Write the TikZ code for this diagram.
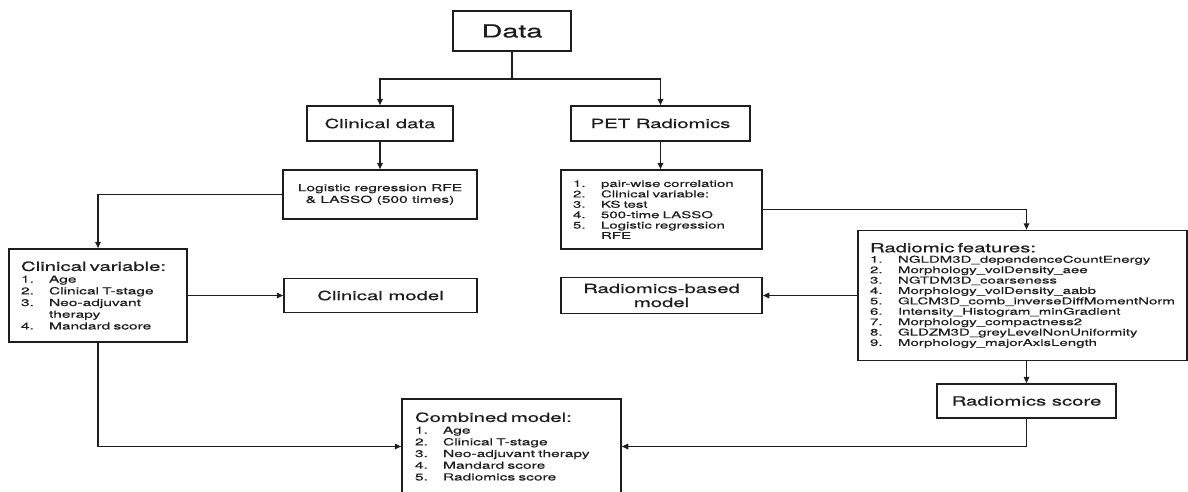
\documentclass[tikz,border=0pt]{standalone}
\usepackage{fontspec}
\setmainfont[FakeStretch=1.6,FakeBold=0.35]{TeX Gyre Heros}
\newfontfamily\headfamily[FakeStretch=1.6,FakeBold=0.7]{TeX Gyre Heros}
\usetikzlibrary{arrows.meta,positioning,calc}
\definecolor{ink}{HTML}{1E1E1E}
\newcommand\headfont{\headfamily\fontsize{12.7}{14}\selectfont}
\newcommand\itemfont{\fontsize{9.7}{11.7}\selectfont}
\newcommand\smallitemfont{\fontsize{9.4}{10.4}\selectfont}
% numbered line: number in a fixed column, then the text
\newcommand\itm[2]{\makebox[28pt][l]{#1}#2}
\tikzset{
  >={Triangle[length=6.5pt,width=5.5pt]},
  every node/.style={text=ink},
  box/.style={draw=ink, line width=1.5pt, fill=white, inner sep=0pt, align=center},
  listbox/.style={box, align=left, inner ysep=0pt},
  flow/.style={->, draw=ink, line width=1.5pt},
}

\begin{document}
\begin{tikzpicture}[x=1pt,y=-1pt]
\useasboundingbox (0,0) rectangle (1188,491);

% ================= top: data split =================
\node[box, minimum width=118pt, minimum height=40pt, font=\headfamily\fontsize{18}{20}\selectfont] (data) at (512,31) {Data};
\node[box, minimum width=146pt, minimum height=35pt, font=\headfont] (clin) at (380,123.5) {Clinical data};
\node[box, minimum width=179pt, minimum height=35pt, font=\headfont] (pet) at (660.5,123.5) {PET Radiomics};

\coordinate (split) at (512,79);
\draw[flow] (data.south) -- (split) -| (clin.north);
\draw[flow] (split) -| (pet.north);

% ================= clinical branch =================
\node[box, minimum width=194pt, minimum height=49pt, font=\itemfont] (lrfe) at (380,194.5)
  {Logistic regression RFE\\\& LASSO (500 times)};
\node[listbox, inner xsep=12pt, text width=154pt, minimum height=93pt, font=\itemfont] (cvar) at (98,295.5)
  {{\headfont Clinical variable:}\\
   \itm{1.}{Age}\\
   \itm{2.}{Clinical T-stage}\\
   \itm{3.}{Neo-adjuvant}\\
   \itm{}{therapy}\\
   \itm{4.}{Mandard score}};
\node[box, minimum width=193pt, minimum height=34pt, font=\headfont] (cmod) at (380.5,295.5) {Clinical model};

\draw[flow] (clin.south) -- (lrfe.north);
\draw[flow] (lrfe.west) -| (cvar.north);
\draw[flow] (cvar.east) -- (cmod.west);

% ================= radiomics branch =================
\node[listbox, inner xsep=12pt, text width=177pt, minimum height=79pt, font=\smallitemfont] (sel) at (661.5,209.5)
  {\itm{1.}{pair-wise correlation}\\
   \itm{2.}{Clinical variable:}\\
   \itm{3.}{KS test}\\
   \itm{4.}{500-time LASSO}\\
   \itm{5.}{Logistic regression}\\
   \itm{}{RFE}};
\node[box, minimum width=201pt, minimum height=36pt, font=\headfont] (rmod) at (661.5,295.5) {Radiomics-based\\model};
\node[listbox, inner xsep=12pt, text width=305pt, minimum height=130pt, font=\smallitemfont] (feat) at (1022.5,295.5)
  {{\headfont Radiomic features:}\\
   \itm{1.}{NGLDM3D\_dependenceCountEnergy}\\
   \itm{2.}{Morphology\_volDensity\_aee}\\
   \itm{3.}{NGTDM3D\_coarseness}\\
   \itm{4.}{Morphology\_volDensity\_aabb}\\
   \itm{5.}{GLCM3D\_comb\_inverseDiffMomentNorm}\\
   \itm{6.}{Intensity\_Histogram\_minGradient}\\
   \itm{7.}{Morphology\_compactness2}\\
   \itm{8.}{GLDZM3D\_greyLevelNonUniformity}\\
   \itm{9.}{Morphology\_majorAxisLength}};
\node[box, minimum width=179pt, minimum height=34pt, font=\headfont] (score) at (1026.5,401) {Radiomics score};

\draw[flow] (pet.south) -- (pet.south |- sel.north);
\draw[flow] (sel.east) -| (score.north |- feat.north);
\draw[flow] (feat.west) -- (rmod.east);
\draw[flow] (feat.south -| score.north) -- (score.north);

% ================= combined model =================
\node[listbox, inner xsep=13pt, text width=193pt, minimum height=95pt, font=\itemfont] (comb) at (511.5,446.5)
  {{\headfont Combined model:}\\
   \itm{1.}{Age}\\
   \itm{2.}{Clinical T-stage}\\
   \itm{3.}{Neo-adjuvant therapy}\\
   \itm{4.}{Mandard score}\\
   \itm{5.}{Radiomics score}};

\draw[flow] (cvar.south) |- (comb.west);
\draw[flow] (score.south) |- (comb.east);

\end{tikzpicture}
\end{document}
